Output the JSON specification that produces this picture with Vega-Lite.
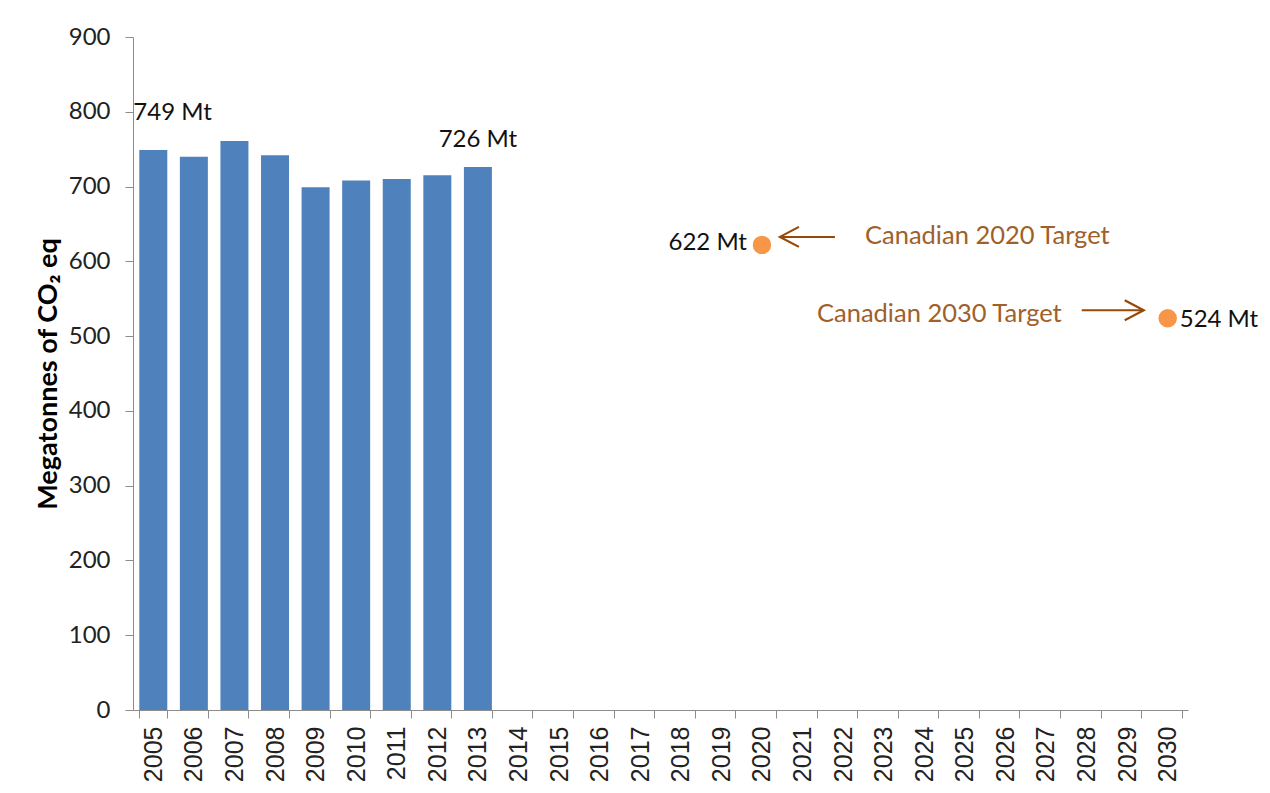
{
  "$schema": "https://vega.github.io/schema/vega-lite/v6.json",
  "width": 1055,
  "height": 673,
  "autosize": {"type": "none"},
  "padding": {"left": 133, "top": 37, "right": 82, "bottom": 83},
  "background": "white",
  "config": {"view": {"stroke": null}, "font": "Lato"},
  "datasets": {
    "emissions": [
      {"year": "2005", "value": 749, "label": "749 Mt"},
      {"year": "2006", "value": 740},
      {"year": "2007", "value": 761},
      {"year": "2008", "value": 742},
      {"year": "2009", "value": 699},
      {"year": "2010", "value": 708},
      {"year": "2011", "value": 710},
      {"year": "2012", "value": 715},
      {"year": "2013", "value": 726, "label": "726 Mt"}
    ],
    "targets": [
      {"year": "2020", "value": 622, "label": "622 Mt", "note": "Canadian 2020 Target"},
      {"year": "2030", "value": 524, "label": "524 Mt", "note": "Canadian 2030 Target"}
    ]
  },
  "encoding": {
    "x": {
      "field": "year",
      "type": "nominal",
      "title": null,
      "scale": {
        "domain": ["2005","2006","2007","2008","2009","2010","2011","2012","2013","2014","2015","2016","2017","2018","2019","2020","2021","2022","2023","2024","2025","2026","2027","2028","2029","2030"],
        "paddingInner": 0.31,
        "paddingOuter": 0.155
      },
      "axis": {
        "tickBand": "extent",
        "labelAngle": -90,
        "labelFont": "Liberation Sans",
        "labelFontSize": 25,
        "labelColor": "#222222",
        "labelPadding": 8,
        "domainColor": "#8c8c8c",
        "tickColor": "#8c8c8c",
        "tickSize": 8,
        "grid": false
      }
    },
    "y": {
      "field": "value",
      "type": "quantitative",
      "title": "Megatonnes of CO₂ eq",
      "scale": {"domain": [0, 900], "nice": false},
      "axis": {
        "values": [0, 100, 200, 300, 400, 500, 600, 700, 800, 900],
        "labelFont": "Lato",
        "labelFontSize": 24,
        "labelColor": "#222222",
        "labelPadding": 15,
        "domainColor": "#8c8c8c",
        "tickColor": "#8c8c8c",
        "tickSize": 8,
        "grid": false,
        "titleFont": "Lato",
        "titleFontSize": 27,
        "titleFontWeight": "bold",
        "titleColor": "#000000",
        "titlePadding": 6
      }
    }
  },
  "layer": [
    {"data": {"name": "emissions"}, "mark": {"type": "bar", "color": "#4f81bd"}},
    {
      "data": {"name": "emissions"},
      "transform": [{"filter": "datum.year == '2005'"}],
      "mark": {"type": "text", "align": "left", "baseline": "middle", "dx": -20, "dy": -37, "fontSize": 24, "color": "#111111"},
      "encoding": {"text": {"field": "label"}}
    },
    {
      "data": {"name": "emissions"},
      "transform": [{"filter": "datum.year == '2013'"}],
      "mark": {"type": "text", "align": "center", "baseline": "middle", "dx": 0, "dy": -27, "fontSize": 24, "color": "#111111"},
      "encoding": {"text": {"field": "label"}}
    },
    {
      "data": {"name": "targets"},
      "mark": {"type": "point", "shape": "circle", "filled": true, "size": 340, "color": "#f79646", "opacity": 1}
    },
    {
      "data": {"name": "targets"},
      "transform": [{"filter": "datum.year == '2020'"}],
      "mark": {"type": "text", "align": "right", "baseline": "middle", "dx": -15, "dy": -2, "fontSize": 24, "color": "#111111"},
      "encoding": {"text": {"field": "label"}}
    },
    {
      "data": {"name": "targets"},
      "transform": [{"filter": "datum.year == '2030'"}],
      "mark": {"type": "text", "align": "left", "baseline": "middle", "dx": 12, "dy": 2, "fontSize": 24, "color": "#111111"},
      "encoding": {"text": {"field": "label"}}
    },
    {
      "data": {"name": "targets"},
      "transform": [{"filter": "datum.year == '2020'"}],
      "mark": {"type": "text", "align": "left", "baseline": "middle", "dx": 103, "dy": -9, "fontSize": 25.5, "color": "#a0602a"},
      "encoding": {"text": {"field": "note"}}
    },
    {
      "data": {"name": "targets"},
      "transform": [{"filter": "datum.year == '2030'"}],
      "mark": {"type": "text", "align": "right", "baseline": "middle", "dx": -106, "dy": -4, "fontSize": 25.5, "color": "#a0602a"},
      "encoding": {"text": {"field": "note"}}
    },
    {
      "data": {"name": "targets"},
      "transform": [{"filter": "datum.year == '2020'"}],
      "mark": {"type": "rule", "color": "#984807", "strokeWidth": 2, "xOffset": 18, "x2Offset": 73, "yOffset": -8},
      "encoding": {"x2": {"field": "year"}}
    },
    {
      "data": {"name": "targets"},
      "transform": [{"filter": "datum.year == '2020'"}],
      "mark": {"type": "point", "shape": "M1.9,-1L0,0L1.9,1", "filled": false, "size": 400, "stroke": "#984807", "strokeWidth": 2.2, "opacity": 1, "xOffset": 18, "yOffset": -8}
    },
    {
      "data": {"name": "targets"},
      "transform": [{"filter": "datum.year == '2030'"}],
      "mark": {"type": "rule", "color": "#984807", "strokeWidth": 2, "xOffset": -86, "x2Offset": -24, "yOffset": -8},
      "encoding": {"x2": {"field": "year"}}
    },
    {
      "data": {"name": "targets"},
      "transform": [{"filter": "datum.year == '2030'"}],
      "mark": {"type": "point", "shape": "M-1.9,-1L0,0L-1.9,1", "filled": false, "size": 400, "stroke": "#984807", "strokeWidth": 2.2, "opacity": 1, "xOffset": -24, "yOffset": -8}
    }
  ]
}
